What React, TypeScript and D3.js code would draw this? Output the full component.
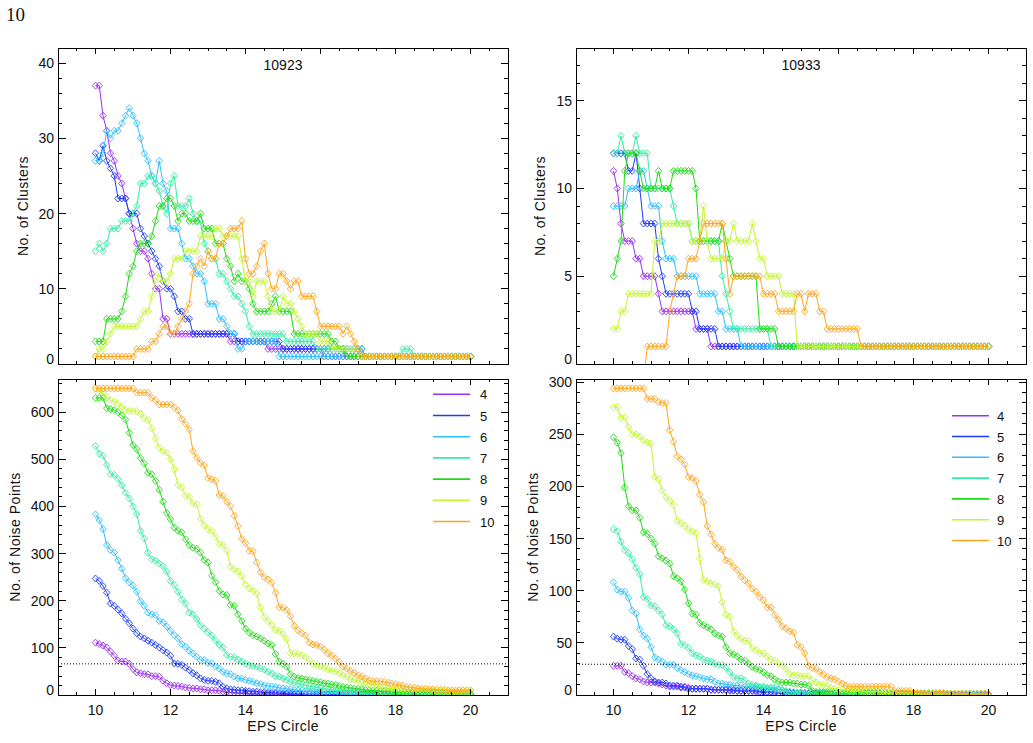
// @ts-nocheck
import * as d3 from "d3"
import { useEffect, useRef } from "react"
import * as React from "react"

// EPS circle radius sampled from 10 to 20 in steps of 0.1
const epsCircle = d3.range(100, 201).map(d => d / 10)
const minPtsLabels = ["4", "5", "6", "7", "8", "9", "10"]
const lineColors = ["#9b30f2", "#1e3cff", "#2ec0ff", "#2ef0a0", "#1edc14", "#c0f82a", "#ffa51e"]

const xTicks = [10, 12, 14, 16, 18, 20]
const clusterTicks10923 = [0, 10, 20, 30, 40]
const clusterTicks10933 = [0, 5, 10, 15]
const noiseTicks10923 = [0, 100, 200, 300, 400, 500, 600]
const noiseTicks10933 = [0, 50, 100, 150, 200, 250, 300]

// ---- number of clusters, region 10923 ----
const clusters10923_4 = [
  37, 37, 33, 31, 28, 27, 25, 24, 22, 20,
  18, 16, 15, 15, 14, 12, 10, 10, 6, 6,
  4, 4, 4, 4, 4, 4, 4, 4, 4, 4,
  4, 4, 4, 4, 4, 4, 3, 3, 3, 3,
  3, 3, 3, 3, 3, 3, 2, 2, 2, 2,
  2, 2, 2, 2, 2, 2, 2, 2, 2, 2,
  2, 1, 1, 1, 1, 1, 1, 1, 1, 1,
  1, 1, 1, 1, 1, 1, 1, 1, 1, 1,
  1, 1, 1, 1, 1, 1, 1, 1, 1, 1,
  1, 1, 1, 1, 1, 1, 1, 1, 1, 1,
  1,
]
const clusters10923_5 = [
  28, 27, 29, 27, 26, 25, 22, 22, 22, 20,
  20, 20, 18, 17, 16, 15, 14, 13, 11, 10,
  10, 9, 7, 7, 6, 6, 4, 4, 4, 4,
  4, 4, 4, 4, 4, 4, 4, 4, 3, 3,
  3, 3, 3, 3, 3, 3, 3, 3, 3, 3,
  2, 2, 2, 2, 2, 2, 2, 2, 2, 2,
  2, 2, 2, 2, 2, 2, 2, 2, 2, 2,
  2, 2, 1, 1, 1, 1, 1, 1, 1, 1,
  1, 1, 1, 1, 1, 1, 1, 1, 1, 1,
  1, 1, 1, 1, 1, 1, 1, 1, 1, 1,
  1,
]
const clusters10923_6 = [
  27, 27, 28, 31, 30, 31, 31, 32, 33, 34,
  33, 32, 30, 28, 27, 25, 24, 27, 24, 23,
  18, 18, 18, 16, 14, 14, 13, 12, 12, 11,
  8, 8, 8, 6, 6, 5, 4, 4, 2, 2,
  3, 3, 3, 3, 3, 3, 3, 3, 3, 1,
  1, 1, 1, 1, 1, 1, 1, 1, 1, 1,
  1, 1, 1, 1, 1, 1, 1, 2, 2, 2,
  2, 2, 1, 1, 1, 1, 1, 1, 1, 1,
  1, 1, 1, 1, 1, 1, 1, 1, 1, 1,
  1, 1, 1, 1, 1, 1, 1, 1, 1, 1,
  1,
]
const clusters10923_7 = [
  15, 16, 15, 16, 18, 18, 18, 19, 19, 19,
  20, 21, 24, 24, 25, 25, 24, 23, 21, 20,
  24, 25, 21, 21, 21, 22, 20, 19, 19, 16,
  15, 14, 14, 12, 12, 11, 10, 9, 9, 8,
  7, 5, 4, 4, 4, 4, 4, 4, 4, 4,
  4, 3, 3, 3, 3, 3, 3, 3, 3, 2,
  2, 2, 2, 2, 2, 2, 2, 1, 1, 1,
  1, 1, 1, 1, 1, 1, 1, 1, 1, 1,
  1, 1, 2, 2, 2, 1, 1, 1, 1, 1,
  1, 1, 1, 1, 1, 1, 1, 1, 1, 1,
  1,
]
const clusters10923_8 = [
  3, 3, 3, 6, 6, 6, 6, 7, 9, 12,
  13, 15, 16, 16, 16, 17, 19, 21, 21, 22,
  22, 21, 19, 20, 20, 19, 19, 19, 20, 18,
  18, 18, 16, 16, 16, 14, 13, 11, 12, 11,
  11, 10, 8, 7, 7, 7, 7, 8, 9, 7,
  7, 7, 7, 4, 4, 4, 4, 4, 4, 4,
  4, 4, 4, 3, 3, 2, 2, 1, 1, 1,
  1, 1, 1, 1, 1, 1, 1, 1, 1, 1,
  1, 1, 1, 1, 1, 1, 1, 1, 1, 1,
  1, 1, 1, 1, 1, 1, 1, 1, 1, 1,
  1,
]
const clusters10923_9 = [
  1, 2, 2, 3, 4, 5, 5, 5, 5, 5,
  5, 5, 6, 7, 7, 9, 11, 12, 11, 11,
  12, 14, 14, 14, 15, 15, 15, 15, 17, 17,
  17, 17, 18, 18, 17, 17, 17, 17, 17, 14,
  11, 11, 9, 11, 11, 11, 9, 7, 7, 7,
  9, 8, 8, 7, 6, 5, 4, 4, 4, 4,
  3, 3, 3, 2, 2, 2, 2, 2, 2, 2,
  2, 1, 1, 1, 1, 1, 1, 1, 1, 1,
  1, 1, 1, 1, 1, 1, 1, 1, 1, 1,
  1, 1, 1, 1, 1, 1, 1, 1, 1, 1,
  1,
]
const clusters10923_10 = [
  1, 1, 1, 1, 1, 1, 1, 1, 1, 1,
  1, 2, 2, 2, 2, 3, 3, 4, 5, 5,
  4, 4, 5, 6, 7, 8, 12, 13, 14, 13,
  15, 14, 14, 16, 16, 17, 18, 18, 18, 19,
  14, 12, 12, 13, 15, 16, 12, 10, 10, 12,
  12, 11, 10, 11, 11, 9, 9, 9, 9, 7,
  5, 5, 5, 5, 5, 5, 4, 5, 4, 3,
  2, 1, 1, 1, 1, 1, 1, 1, 1, 1,
  1, 1, 1, 1, 1, 1, 1, 1, 1, 1,
  1, 1, 1, 1, 1, 1, 1, 1, 1, 1,
  1,
]

// ---- number of clusters, region 10933 (-1: no cluster found) ----
const clusters10933_4 = [
  11, 10, 8, 7, 7, 7, 6, 6, 5, 5,
  5, 5, 4, 3, 3, 3, 3, 3, 3, 3,
  3, 3, 2, 2, 2, 2, 1, 1, 1, 1,
  1, 1, 1, 1, 1, 1, 1, 1, 1, 1,
  1, 1, 1, 1, 1, 1, 1, 1, 1, 1,
  1, 1, 1, 1, 1, 1, 1, 1, 1, 1,
  1, 1, 1, 1, 1, 1, 1, 1, 1, 1,
  1, 1, 1, 1, 1, 1, 1, 1, 1, 1,
  1, 1, 1, 1, 1, 1, 1, 1, 1, 1,
  1, 1, 1, 1, 1, 1, 1, 1, 1, 1,
  1,
]
const clusters10933_5 = [
  12, 12, 12, 12, 11, 11, 12, 10, 8, 8,
  8, 8, 6, 5, 4, 4, 4, 4, 4, 4,
  4, 3, 3, 2, 2, 2, 2, 2, 1, 1,
  1, 1, 1, 1, 1, 1, 1, 1, 1, 1,
  1, 1, 1, 1, 1, 1, 1, 1, 1, 1,
  1, 1, 1, 1, 1, 1, 1, 1, 1, 1,
  1, 1, 1, 1, 1, 1, 1, 1, 1, 1,
  1, 1, 1, 1, 1, 1, 1, 1, 1, 1,
  1, 1, 1, 1, 1, 1, 1, 1, 1, 1,
  1, 1, 1, 1, 1, 1, 1, 1, 1, 1,
  1,
]
const clusters10933_6 = [
  9, 9, 9, 9, 10, 10, 10, 11, 11, 10,
  9, 9, 9, 7, 6, 6, 6, 5, 5, 5,
  5, 5, 5, 4, 4, 4, 4, 4, 3, 3,
  2, 2, 2, 2, 1, 1, 1, 1, 1, 1,
  1, 1, 1, 1, 1, 1, 1, 1, 1, 1,
  1, 1, 1, 1, 1, 1, 1, 1, 1, 1,
  1, 1, 1, 1, 1, 1, 1, 1, 1, 1,
  1, 1, 1, 1, 1, 1, 1, 1, 1, 1,
  1, 1, 1, 1, 1, 1, 1, 1, 1, 1,
  1, 1, 1, 1, 1, 1, 1, 1, 1, 1,
  1,
]
const clusters10933_7 = [
  12, 12, 13, 12, 12, 12, 13, 12, 12, 12,
  10, 10, 10, 10, 10, 10, 9, 8, 8, 8,
  8, 7, 7, 7, 7, 7, 7, 7, 7, 5,
  4, 3, 2, 2, 2, 2, 2, 2, 2, 2,
  2, 2, 1, 1, 1, 1, 1, 1, 1, 1,
  1, 1, 1, 1, 1, 1, 1, 1, 1, 1,
  1, 1, 1, 1, 1, 1, 1, 1, 1, 1,
  1, 1, 1, 1, 1, 1, 1, 1, 1, 1,
  1, 1, 1, 1, 1, 1, 1, 1, 1, 1,
  1, 1, 1, 1, 1, 1, 1, 1, 1, 1,
  1,
]
const clusters10933_8 = [
  5, 6, 7, 11, 12, 12, 12, 11, 10, 10,
  10, 10, 11, 10, 10, 10, 11, 11, 11, 11,
  11, 11, 10, 7, 7, 7, 7, 7, 7, 8,
  7, 6, 5, 5, 5, 5, 5, 5, 5, 2,
  2, 2, 2, 2, 1, 1, 1, 1, 1, 1,
  1, 1, 1, 1, 1, 1, 1, 1, 1, 1,
  1, 1, 1, 1, 1, 1, 1, 1, 1, 1,
  1, 1, 1, 1, 1, 1, 1, 1, 1, 1,
  1, 1, 1, 1, 1, 1, 1, 1, 1, 1,
  1, 1, 1, 1, 1, 1, 1, 1, 1, 1,
  1,
]
const clusters10933_9 = [
  2, 2, 3, 3, 4, 4, 4, 4, 4, 4,
  4, 7, 7, 8, 8, 8, 8, 8, 8, 8,
  8, 7, 7, 7, 9, 7, 6, 6, 6, 6,
  7, 7, 8, 7, 7, 7, 7, 8, 7, 6,
  6, 5, 5, 5, 5, 4, 4, 4, 4, 1,
  1, 1, 1, 1, 1, 1, 1, 1, 1, 1,
  1, 1, 1, 1, 1, 1, 1, 1, 1, 1,
  1, 1, 1, 1, 1, 1, 1, 1, 1, 1,
  1, 1, 1, 1, 1, 1, 1, 1, 1, 1,
  1, 1, 1, 1, 1, 1, 1, 1, 1, 1,
  1,
]
const clusters10933_10 = [
  -1, -1, -1, -1, -1, -1, -1, -1, -1, 1,
  1, 1, 1, 1, 1, 3, 4, 5, 5, 5,
  6, 6, 6, 7, 8, 8, 8, 8, 8, 8,
  6, 4, 5, 5, 5, 5, 5, 5, 5, 5,
  4, 4, 4, 4, 3, 3, 3, 3, 3, 4,
  4, 3, 4, 4, 4, 3, 3, 2, 2, 2,
  2, 2, 2, 2, 2, 2, 1, 1, 1, 1,
  1, 1, 1, 1, 1, 1, 1, 1, 1, 1,
  1, 1, 1, 1, 1, 1, 1, 1, 1, 1,
  1, 1, 1, 1, 1, 1, 1, 1, 1, 1,
  1,
]

// ---- number of noise points, region 10923 ----
const noise10923_4 = [
  111, 108, 105, 101, 92, 83, 73, 71, 71, 66,
  55, 48, 46, 44, 44, 40, 40, 39, 30, 25,
  21, 20, 19, 18, 16, 15, 14, 14, 12, 12,
  10, 10, 10, 9, 7, 6, 5, 5, 4, 4,
  3, 3, 3, 2, 2, 2, 2, 2, 2, 1,
  1, 1, 1, 1, 1, 1, 1, 1, 1, 1,
  1, 1, 1, 1, 1, 0, 0, 0, 0, 0,
  0, 0, 0, 0, 0, 0, 0, 0, 0, 0,
  0, 0, 0, 0, 0, 0, 0, 0, 0, 0,
  0, 0, 0, 0, 0, 0, 0, 0, 0, 0,
  0,
]
const noise10923_5 = [
  247, 242, 231, 217, 194, 189, 181, 173, 162, 152,
  141, 131, 124, 120, 115, 111, 106, 101, 95, 90,
  83, 67, 66, 64, 58, 53, 46, 42, 35, 32,
  30, 30, 28, 25, 17, 14, 12, 11, 10, 10,
  9, 8, 7, 7, 6, 6, 5, 5, 4, 4,
  3, 3, 3, 2, 2, 2, 2, 2, 2, 2,
  1, 1, 1, 1, 1, 1, 1, 1, 1, 1,
  1, 1, 1, 1, 1, 1, 1, 1, 1, 1,
  0, 0, 0, 0, 0, 0, 0, 0, 0, 0,
  0, 0, 0, 0, 0, 0, 0, 0, 0, 0,
  0,
]
const noise10923_6 = [
  383, 371, 352, 318, 307, 302, 286, 268, 248, 239,
  232, 219, 199, 189, 175, 171, 169, 157, 154, 145,
  136, 127, 120, 108, 102, 94, 88, 81, 74, 74,
  68, 67, 60, 56, 49, 46, 44, 39, 35, 35,
  32, 30, 28, 25, 23, 21, 19, 18, 17, 15,
  14, 13, 12, 11, 10, 9, 8, 7, 7, 6,
  6, 5, 5, 4, 4, 3, 3, 3, 2, 2,
  2, 2, 2, 2, 1, 1, 1, 1, 1, 1,
  1, 1, 1, 1, 1, 1, 1, 1, 1, 1,
  1, 1, 1, 1, 1, 1, 1, 1, 1, 1,
  1,
]
const noise10923_7 = [
  528, 512, 507, 488, 468, 467, 458, 445, 429, 417,
  400, 384, 348, 332, 302, 288, 285, 279, 273, 261,
  242, 233, 219, 203, 194, 175, 171, 161, 148, 141,
  133, 126, 116, 106, 101, 85, 81, 80, 75, 71,
  67, 63, 61, 60, 56, 54, 49, 46, 40, 39,
  35, 32, 28, 26, 24, 22, 20, 19, 17, 16,
  15, 13, 12, 11, 10, 9, 8, 8, 7, 6,
  6, 5, 5, 4, 4, 4, 3, 3, 3, 3,
  2, 2, 2, 2, 2, 2, 2, 2, 2, 2,
  1, 1, 1, 1, 1, 1, 1, 1, 1, 1,
  1,
]
const noise10923_8 = [
  630, 630, 630, 608, 606, 604, 600, 593, 584, 556,
  530, 521, 502, 491, 471, 468, 454, 435, 410, 386,
  373, 355, 348, 345, 330, 318, 312, 310, 302, 286,
  281, 253, 239, 221, 213, 212, 191, 189, 171, 157,
  141, 132, 127, 124, 120, 115, 109, 106, 87, 71,
  66, 60, 44, 39, 36, 35, 33, 32, 30, 28,
  27, 25, 24, 22, 21, 19, 17, 16, 15, 14,
  13, 12, 11, 10, 9, 9, 8, 8, 7, 7,
  6, 6, 5, 5, 5, 4, 4, 4, 4, 3,
  3, 3, 3, 3, 3, 3, 3, 3, 3, 3,
  3,
]
const noise10923_9 = [
  650, 645, 640, 632, 625, 622, 617, 612, 605, 602,
  602, 602, 596, 587, 583, 566, 545, 525, 517, 514,
  500, 478, 445, 440, 423, 420, 407, 404, 374, 360,
  351, 348, 336, 321, 318, 306, 272, 267, 262, 252,
  234, 226, 221, 214, 186, 166, 157, 148, 138, 136,
  130, 118, 89, 88, 87, 84, 80, 74, 65, 62,
  60, 57, 55, 52, 50, 46, 42, 39, 34, 32,
  30, 28, 26, 23, 21, 19, 17, 16, 15, 14,
  13, 12, 11, 11, 10, 10, 9, 9, 8, 8,
  8, 7, 7, 7, 7, 6, 6, 6, 6, 6,
  6,
]
const noise10923_10 = [
  650, 650, 650, 650, 650, 650, 650, 650, 650, 650,
  650, 641, 641, 641, 641, 630, 625, 616, 616, 616,
  616, 610, 603, 585, 575, 563, 517, 503, 492, 487,
  460, 458, 454, 424, 422, 410, 400, 380, 358, 331,
  322, 306, 305, 281, 260, 250, 245, 238, 217, 186,
  185, 180, 167, 147, 137, 131, 126, 112, 107, 106,
  103, 96, 88, 84, 77, 70, 60, 56, 51, 47,
  42, 39, 35, 31, 29, 29, 29, 28, 26, 24,
  23, 21, 20, 17, 16, 15, 14, 13, 13, 12,
  12, 11, 11, 11, 10, 10, 10, 10, 10, 10,
  10,
]

// ---- number of noise points, region 10933 ----
const noise10933_4 = [
  28, 28, 28, 22, 21, 18, 16, 15, 13, 12,
  12, 12, 11, 10, 9, 8, 8, 8, 7, 7,
  7, 6, 6, 6, 6, 6, 5, 5, 5, 5,
  5, 4, 4, 4, 4, 4, 4, 4, 3, 3,
  3, 3, 3, 3, 2, 2, 2, 2, 2, 2,
  2, 2, 2, 1, 1, 1, 1, 1, 1, 1,
  1, 1, 1, 1, 1, 1, 1, 1, 1, 1,
  1, 1, 1, 1, 1, 1, 1, 1, 1, 1,
  0, 0, 0, 0, 0, 0, 0, 0, 0, 0,
  0, 0, 0, 0, 0, 0, 0, 0, 0, 0,
  0,
]
const noise10933_5 = [
  56, 54, 53, 53, 47, 44, 35, 34, 28, 20,
  16, 13, 12, 12, 11, 9, 9, 9, 8, 8,
  6, 6, 6, 6, 6, 6, 5, 5, 5, 5,
  5, 5, 5, 4, 4, 4, 4, 4, 4, 3,
  3, 3, 3, 2, 2, 2, 2, 2, 1, 1,
  1, 1, 1, 1, 1, 1, 1, 1, 1, 1,
  1, 1, 1, 1, 1, 1, 1, 1, 1, 1,
  0, 0, 0, 0, 0, 0, 0, 0, 0, 0,
  0, 0, 0, 0, 0, 0, 0, 0, 0, 0,
  0, 0, 0, 0, 0, 0, 0, 0, 0, 0,
  0,
]
const noise10933_6 = [
  108, 101, 99, 99, 93, 81, 78, 63, 57, 54,
  46, 36, 34, 32, 29, 29, 29, 26, 24, 22,
  20, 19, 18, 17, 16, 15, 15, 13, 11, 11,
  10, 10, 9, 9, 9, 8, 8, 8, 8, 7,
  7, 6, 6, 5, 5, 4, 3, 3, 2, 2,
  2, 2, 2, 2, 1, 1, 1, 1, 1, 1,
  1, 1, 1, 1, 1, 1, 1, 1, 1, 1,
  1, 1, 1, 1, 1, 1, 1, 1, 1, 1,
  0, 0, 0, 0, 0, 0, 0, 0, 0, 0,
  0, 0, 0, 0, 0, 0, 0, 0, 0, 0,
  0,
]
const noise10933_7 = [
  159, 157, 147, 139, 136, 130, 122, 116, 94, 92,
  86, 85, 81, 77, 67, 66, 63, 59, 49, 48,
  45, 40, 38, 37, 34, 33, 32, 30, 29, 29,
  26, 22, 17, 16, 16, 14, 11, 10, 9, 8,
  8, 7, 7, 7, 6, 5, 4, 3, 3, 2,
  2, 2, 2, 2, 2, 2, 2, 1, 1, 1,
  1, 1, 1, 1, 1, 1, 1, 1, 1, 1,
  1, 1, 1, 1, 1, 1, 1, 1, 1, 1,
  1, 1, 1, 1, 1, 1, 1, 1, 1, 1,
  1, 1, 1, 1, 1, 1, 1, 1, 1, 1,
  1,
]
const noise10933_8 = [
  247, 242, 232, 199, 181, 177, 177, 170, 156, 155,
  150, 145, 133, 131, 129, 126, 114, 112, 109, 101,
  88, 78, 77, 69, 67, 65, 63, 59, 57, 56,
  46, 40, 39, 37, 34, 33, 30, 27, 25, 24,
  22, 19, 18, 15, 13, 12, 12, 12, 11, 11,
  10, 10, 9, 4, 3, 3, 3, 3, 3, 3,
  2, 2, 2, 2, 2, 2, 2, 2, 2, 2,
  2, 2, 1, 1, 1, 1, 1, 1, 1, 1,
  1, 1, 1, 1, 1, 1, 1, 1, 1, 1,
  1, 1, 1, 1, 1, 1, 1, 1, 1, 1,
  1,
]
const noise10933_9 = [
  276, 276, 266, 266, 257, 250, 250, 248, 244, 242,
  241, 209, 207, 196, 190, 186, 182, 167, 165, 162,
  159, 157, 155, 131, 110, 109, 107, 106, 104, 89,
  77, 75, 61, 57, 54, 52, 52, 45, 43, 40,
  40, 37, 34, 33, 30, 29, 25, 20, 19, 19,
  18, 18, 18, 14, 12, 10, 10, 9, 7, 6,
  5, 5, 5, 4, 4, 4, 4, 3, 3, 3,
  3, 3, 3, 2, 2, 2, 2, 2, 2, 2,
  2, 1, 1, 1, 1, 1, 1, 1, 1, 1,
  1, 1, 1, 1, 1, 1, 1, 1, 1, 1,
  1,
]
const noise10933_10 = [
  294, 294, 294, 294, 294, 294, 294, 294, 294, 284,
  284, 284, 281, 280, 280, 254, 243, 229, 226, 221,
  209, 208, 205, 192, 185, 162, 154, 145, 141, 139,
  129, 128, 123, 120, 114, 110, 107, 102, 99, 94,
  91, 84, 84, 77, 72, 66, 64, 61, 60, 48,
  46, 40, 28, 26, 25, 22, 20, 17, 16, 15,
  13, 11, 9, 8, 8, 8, 8, 8, 8, 8,
  8, 8, 8, 8, 8, 4, 4, 4, 4, 4,
  2, 2, 2, 2, 2, 2, 2, 2, 2, 1,
  1, 1, 1, 1, 1, 1, 1, 1, 1, 1,
  1,
]

const PANEL_W = 450
const PANEL_H = 316
const FONT = "'Liberation Sans', Arial, Helvetica, sans-serif"

const panels = [
  {
    id: "c10923", left: 58, top: 48, yMax: 42, yTicks: clusterTicks10923, yMinor: 2,
    title: "10923", yTitle: "No. of Clusters", yTitleOffset: 30,
    series: [clusters10923_4, clusters10923_5, clusters10923_6, clusters10923_7, clusters10923_8, clusters10923_9, clusters10923_10],
  },
  {
    id: "c10933", left: 576, top: 48, yMax: 18, yTicks: clusterTicks10933, yMinor: 1,
    title: "10933", yTitle: "No. of Clusters", yTitleOffset: 31,
    series: [clusters10933_4, clusters10933_5, clusters10933_6, clusters10933_7, clusters10933_8, clusters10933_9, clusters10933_10],
  },
  {
    id: "n10923", left: 58, top: 379, yMax: 670, yTicks: noiseTicks10923, yMinor: 20,
    yTitle: "No. of Noise Points", yTitleOffset: 38, xLabels: true, threshold: 66,
    legend: { x: 433, y: 394.3, gap: 21.2, textDx: 47 },
    series: [noise10923_4, noise10923_5, noise10923_6, noise10923_7, noise10923_8, noise10923_9, noise10923_10],
  },
  {
    id: "n10933", left: 576, top: 379, yMax: 303, yTicks: noiseTicks10933, yMinor: 10,
    yTitle: "No. of Noise Points", yTitleOffset: 38, xLabels: true, threshold: 29.5,
    legend: { x: 952, y: 415.7, gap: 20.8, textDx: 45 },
    series: [noise10933_4, noise10933_5, noise10933_6, noise10933_7, noise10933_8, noise10933_9, noise10933_10],
  },
]

const diamond = "M0,-3.5L3.2,0L0,3.5L-3.2,0Z"

function drawPanel(svg, p) {
  const right = p.left + PANEL_W
  const bottom = p.top + PANEL_H
  const x = d3.scaleLinear().domain([9, 21]).range([p.left, right])
  const y = d3.scaleLinear().domain([0, p.yMax]).range([bottom, p.top])

  svg.append("clipPath").attr("id", "clip-" + p.id)
    .append("rect")
    .attr("x", p.left).attr("y", p.top)
    .attr("width", PANEL_W).attr("height", PANEL_H)

  const plot = svg.append("g").attr("clip-path", `url(#clip-${p.id})`)
  const line = d3.line().x((d, i) => x(epsCircle[i])).y(d => y(d))

  p.series.forEach((values, k) => {
    const color = lineColors[k]
    plot.append("path")
      .attr("d", line(values))
      .attr("fill", "none")
      .attr("stroke", color)
      .attr("stroke-width", 1)
    plot.append("g")
      .selectAll("path")
      .data(values)
      .join("path")
      .attr("transform", (d, i) => `translate(${x(epsCircle[i])},${y(d)})`)
      .attr("d", diamond)
      .attr("fill", "none")
      .attr("stroke", color)
      .attr("stroke-width", 0.9)
  })

  if (p.threshold != null) {
    plot.append("line")
      .attr("x1", p.left).attr("x2", right)
      .attr("y1", y(p.threshold)).attr("y2", y(p.threshold))
      .attr("stroke", "#000")
      .attr("stroke-width", 1)
      .attr("stroke-dasharray", "1,2")
  }

  // box with inward ticks on all four sides
  const axes = svg.append("g")
    .attr("stroke", "#000")
    .attr("stroke-width", 1)
    .attr("shape-rendering", "crispEdges")
  axes.append("rect")
    .attr("x", p.left).attr("y", p.top)
    .attr("width", PANEL_W).attr("height", PANEL_H)
    .attr("fill", "none")

  const xMinor = d3.range(19, 42).map(k => k / 2).filter(v => !xTicks.includes(v))
  const yMinor = d3.range(p.yMinor, p.yMax, p.yMinor).filter(v => !p.yTicks.includes(v))

  const xTick = (v, len) => {
    axes.append("line").attr("x1", x(v)).attr("x2", x(v)).attr("y1", bottom).attr("y2", bottom - len)
    axes.append("line").attr("x1", x(v)).attr("x2", x(v)).attr("y1", p.top).attr("y2", p.top + len)
  }
  const yTick = (v, len) => {
    axes.append("line").attr("x1", p.left).attr("x2", p.left + len).attr("y1", y(v)).attr("y2", y(v))
    axes.append("line").attr("x1", right).attr("x2", right - len).attr("y1", y(v)).attr("y2", y(v))
  }
  xTicks.forEach(v => xTick(v, 6))
  xMinor.forEach(v => xTick(v, 3))
  p.yTicks.forEach(v => yTick(v, 7.5))
  yMinor.forEach(v => yTick(v, 3.75))

  const labels = svg.append("g")
    .style("font-family", FONT)
    .style("font-size", "14px")
    .attr("fill", "#111")

  labels.selectAll(".ylab")
    .data(p.yTicks)
    .join("text")
    .attr("x", p.left - 4)
    .attr("y", d => Math.min(y(d) + 5, bottom))
    .attr("text-anchor", "end")
    .text(d => d)

  if (p.xLabels) {
    labels.selectAll(".xlab")
      .data(xTicks)
      .join("text")
      .attr("x", d => x(d))
      .attr("y", 715)
      .attr("text-anchor", "middle")
      .text(d => d)
    labels.append("text")
      .attr("x", (p.left + right) / 2)
      .attr("y", 731)
      .attr("text-anchor", "middle")
      .style("letter-spacing", "0.4px")
      .text("EPS Circle")
  }

  if (p.title) {
    labels.append("text")
      .attr("x", (p.left + right) / 2)
      .attr("y", 70)
      .attr("text-anchor", "middle")
      .text(p.title)
  }

  labels.append("text")
    .attr("transform", `translate(${p.left - p.yTitleOffset},${p.top + PANEL_H / 2}) rotate(-90)`)
    .attr("text-anchor", "middle")
    .style("letter-spacing", "0.5px")
    .text(p.yTitle)

  if (p.legend) {
    const lg = svg.append("g")
    minPtsLabels.forEach((name, k) => {
      const ly = p.legend.y + k * p.legend.gap
      lg.append("line")
        .attr("x1", p.legend.x).attr("x2", p.legend.x + 37)
        .attr("y1", ly).attr("y2", ly)
        .attr("stroke", lineColors[k])
        .attr("stroke-width", 1.6)
      lg.append("text")
        .attr("x", p.legend.x + p.legend.textDx)
        .attr("y", ly + 5)
        .style("font-family", FONT)
        .style("font-size", "13px")
        .attr("fill", "#111")
        .text(name)
    })
  }
}

export default function App() {
  const svgRef = useRef(null)
  useEffect(() => {
    document.body.style.margin = "0"
    const svg = d3.select(svgRef.current)
    svg.selectAll("*").remove()
    svg.append("rect").attr("width", 1033).attr("height", 743).attr("fill", "#fff")
    svg.append("text")
      .attr("x", 6)
      .attr("y", 20.5)
      .style("font-family", "'Liberation Serif', 'Times New Roman', serif")
      .style("font-size", "19px")
      .attr("fill", "#111")
      .text("10")
    panels.forEach(p => drawPanel(svg, p))
  }, [])
  return <svg ref={svgRef} width={1033} height={743} style={{ display: "block" }} />
}
